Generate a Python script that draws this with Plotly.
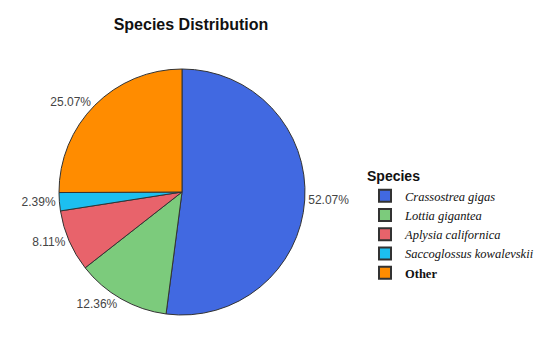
import plotly.graph_objects as go

species = ["Crassostrea gigas", "Lottia gigantea", "Aplysia californica", "Saccoglossus kowalevskii", "Other"]
percent = [52.07, 12.36, 8.11, 2.39, 25.07]
colors = ["#4169E1", "#7CCB7C", "#E8636B", "#1CBFF0", "#FF8C00"]

legend_names = ["<i>" + s + "</i>" for s in species[:-1]] + ["<b>" + species[-1] + "</b>"]

W, H = 550, 362
fig = go.Figure(go.Pie(
    labels=legend_names,
    values=percent,
    sort=False,
    direction="clockwise",
    rotation=0,
    marker=dict(colors=colors, line=dict(color="#333333", width=1)),
    texttemplate="%{value:.2f}%",
    textposition="outside",
    textfont=dict(family="Liberation Sans, Arial", size=12, color="#444444"),
    domain=dict(x=[49/W, 299/W], y=[1-307/H, 1-61/H]),
    hoverinfo="label+percent",
))
fig.update_layout(
    width=W, height=H,
    margin=dict(l=0, r=0, t=0, b=0),
    paper_bgcolor="white",
    title=dict(text="<b>Species Distribution</b>", x=183/W, xanchor="center", y=1-16/H, yanchor="middle",
               font=dict(family="Liberation Sans, Arial", size=16, color="#111111")),
    legend=dict(
        title=dict(text="<b>Species</b>", font=dict(family="Liberation Sans, Arial", size=14, color="#111111")),
        font=dict(family="Liberation Serif, Times New Roman", size=12.5, color="#111111"),
        x=357/W, xanchor="left", y=1-155/H, yanchor="top",
        tracegroupgap=0, itemsizing="constant", itemwidth=30,
        bgcolor="rgba(0,0,0,0)",
    ),
)
fig.write_html("out.html")
